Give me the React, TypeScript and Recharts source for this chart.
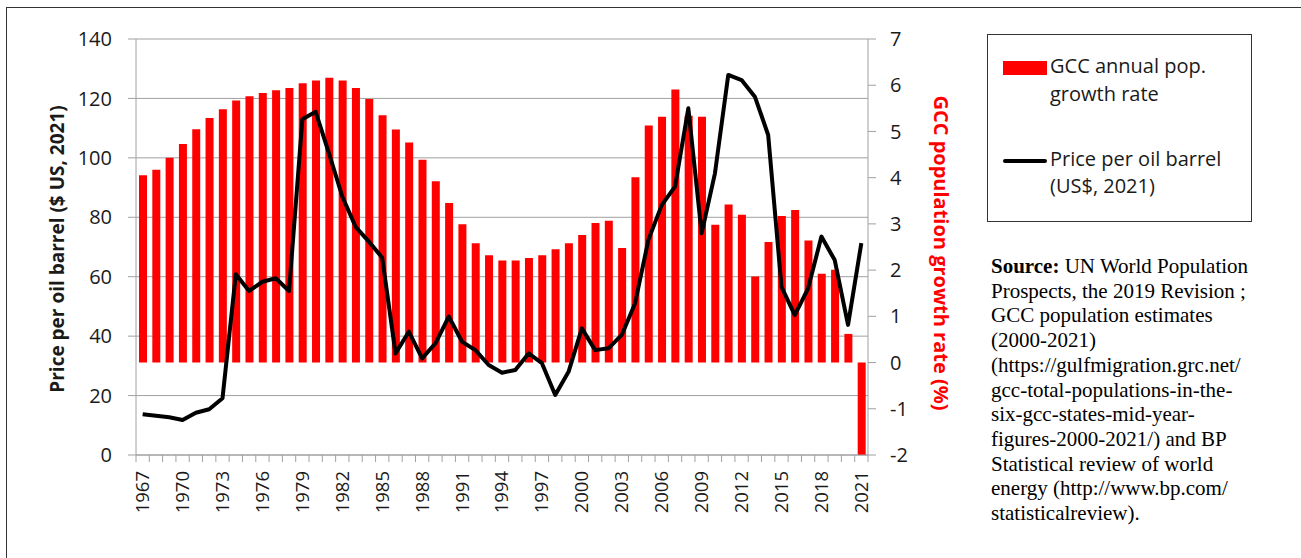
import { ComposedChart, Bar, Line, XAxis, YAxis, CartesianGrid } from 'recharts';

// GCC annual population growth (%) vs oil price (US$ 2021), 1967-2021
const years = [
  1967, 1968, 1969, 1970, 1971, 1972, 1973, 1974, 1975, 1976, 1977, 1978, 1979, 1980,
  1981, 1982, 1983, 1984, 1985, 1986, 1987, 1988, 1989, 1990, 1991, 1992, 1993, 1994,
  1995, 1996, 1997, 1998, 1999, 2000, 2001, 2002, 2003, 2004, 2005, 2006, 2007, 2008,
  2009, 2010, 2011, 2012, 2013, 2014, 2015, 2016, 2017, 2018, 2019, 2020, 2021,
];

const growthRate = [
  4.05, 4.17, 4.43, 4.73, 5.05, 5.29, 5.48, 5.67, 5.76, 5.83, 5.89, 5.94, 6.04, 6.1,
  6.16, 6.1, 5.94, 5.7, 5.35, 5.04, 4.76, 4.39, 3.92, 3.45, 2.99, 2.58, 2.32, 2.21,
  2.21, 2.26, 2.32, 2.45, 2.58, 2.76, 3.02, 3.07, 2.48, 4.01, 5.13, 5.32, 5.91, 5.34,
  5.32, 2.98, 3.42, 3.2, 1.86, 2.61, 3.17, 3.3, 2.64, 1.92, 2.01, 0.62, -2.0,
];

const oilPrice = [
  13.7, 13.2, 12.7, 11.8, 14.2, 15.4, 19.1, 60.8, 55.2, 58.3, 59.5, 55.2, 113, 115.5,
  101.5, 87, 76.8, 71.8, 66.4, 34.2, 41.5, 32.5, 37.6, 46.6, 38.1, 35.3, 30.3, 27.7,
  28.6, 34.2, 30.9, 20.2, 28.0, 42.6, 35.3, 35.9, 40.4, 51.1, 72.4, 84.1, 90.3, 116.7,
  74.6, 94.8, 127.9, 126.2, 120.6, 107.7, 56.6, 47.1, 56.1, 73.5, 65.6, 43.8, 71.3,
];

const priceTicks = [0, 20, 40, 60, 80, 100, 120, 140];
const growthTicks = [-2, -1, 0, 1, 2, 3, 4, 5, 6, 7];

const sourceLines = [
  'Prospects, the 2019 Revision ;',
  'GCC population estimates',
  '(2000-2021)',
  '(https://gulfmigration.grc.net/',
  'gcc-total-populations-in-the-',
  'six-gcc-states-mid-year-',
  'figures-2000-2021/) and BP',
  'Statistical review of world',
  'energy (http://www.bp.com/',
  'statisticalreview).',
];

const chartData = years.map((year, i) => ({
  year: String(year),
  growth: growthRate[i],
  price: oilPrice[i],
}));

const W = 1301;
const H = 558;
const PLOT_LEFT = 136;
const PLOT_RIGHT = 868;
const PLOT_TOP = 39;
const PLOT_BOTTOM = 455;
const AXIS_W = 60;
const AXIS_H = 60;
const BAND = (PLOT_RIGHT - PLOT_LEFT) / years.length;

const GRID = '#a0a0a0';
const INK = '#1a1a1a';
const SANS = '"Open Sans", sans-serif';

function YearTick(props: any) {
  const { x, index, payload } = props;
  const last = index === years.length - 1;
  return (
    <g>
      <line x1={x - BAND / 2} x2={x - BAND / 2} y1={PLOT_BOTTOM} y2={PLOT_BOTTOM + 7} stroke={GRID} />
      {last && (
        <line x1={x + BAND / 2} x2={x + BAND / 2} y1={PLOT_BOTTOM} y2={PLOT_BOTTOM + 7} stroke={GRID} />
      )}
      {index % 3 === 0 && (
        <text
          x={x}
          y={PLOT_BOTTOM + 16}
          transform={`rotate(-90 ${x} ${PLOT_BOTTOM + 16})`}
          textAnchor="end"
          dy="0.35em"
          fill={INK}
          fontSize={18.5}
          fontFamily={SANS}
        >
          {payload.value}
        </text>
      )}
    </g>
  );
}

export default function App() {
  return (
    <div style={{ position: 'absolute', left: 0, top: 0, width: W, height: H, background: '#fff' }}>
      {/* frame lines */}
      <div style={{ position: 'absolute', left: 6, top: 7, right: 0, bottom: 0, borderTop: '1.5px solid #333', borderLeft: '1.5px solid #333' }} />

      <ComposedChart
        width={W}
        height={H}
        data={chartData}
        margin={{
          top: PLOT_TOP,
          left: PLOT_LEFT - AXIS_W,
          right: W - PLOT_RIGHT - AXIS_W,
          bottom: H - PLOT_BOTTOM - AXIS_H,
        }}
        style={{ position: 'absolute', left: 0, top: 0 }}
      >
        <CartesianGrid vertical={false} yAxisId="price" stroke={GRID} strokeWidth={1} />
        <XAxis
          dataKey="year"
          height={AXIS_H}
          interval={0}
          tickLine={false}
          axisLine={{ stroke: GRID }}
          tick={<YearTick />}
        />
        <YAxis
          yAxisId="price"
          width={AXIS_W}
          domain={[0, 140]}
          ticks={priceTicks}
          tickSize={8}
          tickMargin={16}
          axisLine={{ stroke: GRID }}
          tickLine={{ stroke: GRID }}
          tick={{ fill: INK, fontSize: 20, fontFamily: SANS }}
        />
        <YAxis
          yAxisId="growth"
          orientation="right"
          width={AXIS_W}
          domain={[-2, 7]}
          ticks={growthTicks}
          tickSize={8}
          tickMargin={14}
          axisLine={{ stroke: GRID }}
          tickLine={{ stroke: GRID }}
          tick={{ fill: INK, fontSize: 20, fontFamily: SANS }}
        />
        <Bar yAxisId="growth" dataKey="growth" fill="#ff0000" barSize={8} isAnimationActive={false} />
        <Line
          yAxisId="price"
          dataKey="price"
          type="linear"
          stroke="#000"
          strokeWidth={4}
          strokeLinejoin="round"
          dot={false}
          activeDot={false}
          isAnimationActive={false}
        />
      </ComposedChart>

      {/* axis titles */}
      <div
        style={{
          position: 'absolute', left: 57 - 170, top: 249 - 14, width: 340, height: 28,
          lineHeight: '28px', textAlign: 'center', transform: 'rotate(-90deg)',
          fontFamily: SANS, fontWeight: 700, fontSize: 19, color: INK, whiteSpace: 'nowrap',
        }}
      >
        Price per oil barrel ($ US, 2021)
      </div>
      <div
        style={{
          position: 'absolute', left: 941 - 170, top: 253 - 14, width: 340, height: 28,
          lineHeight: '28px', textAlign: 'center', transform: 'rotate(90deg)',
          fontFamily: SANS, fontWeight: 700, fontSize: 20, color: '#ff0000', whiteSpace: 'nowrap',
        }}
      >
        GCC population growth rate (%)
      </div>

      {/* legend */}
      <div style={{ position: 'absolute', left: 987, top: 34, width: 263, height: 186, border: '1.5px solid #333' }} />
      <div style={{ position: 'absolute', left: 1003, top: 61, width: 44, height: 14, background: '#ff0000' }} />
      <div style={{ position: 'absolute', left: 1003, top: 159, width: 44, height: 4, background: '#000', borderRadius: 2 }} />
      <div style={{ position: 'absolute', left: 1050, top: 52, fontFamily: SANS, fontSize: 20, lineHeight: '27.5px', color: INK }}>
        <div>GCC annual pop.</div>
        <div>growth rate</div>
      </div>
      <div style={{ position: 'absolute', left: 1050, top: 146, fontFamily: SANS, fontSize: 20, lineHeight: '26.5px', color: INK }}>
        <div>Price per oil barrel</div>
        <div>(US$, 2021)</div>
      </div>

      {/* source note */}
      <div
        style={{
          position: 'absolute', left: 991, top: 254, fontFamily: '"Liberation Serif", "Times New Roman", serif',
          fontSize: 21, lineHeight: '24.7px', color: '#000', whiteSpace: 'nowrap',
        }}
      >
        <div>
          <b>Source:</b> UN World Population
        </div>
        {sourceLines.map((line) => (
          <div key={line}>{line}</div>
        ))}
      </div>
    </div>
  );
}
